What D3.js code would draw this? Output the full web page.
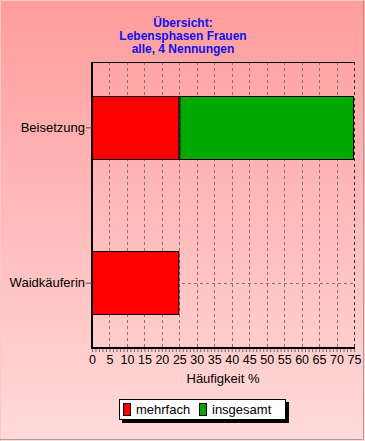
<!DOCTYPE html>
<html>
<head>
<meta charset="utf-8">
<script src="https://cdn.jsdelivr.net/npm/d3@7"></script>
<style>
  body { margin: 0; }
  svg { display: block; font-family: "Liberation Sans", Arial, sans-serif; }
</style>
</head>
<body>
<div id="chart"></div>
<script>
// DATA
const categories = ["Beisetzung", "Waidkäuferin"];
const mehrfach = [25, 25];
const insgesamt = [50, 0];
const seriesNames = ["mehrfach", "insgesamt"];
const seriesColors = ["#ff0000", "#00a800"];
const titleLines = ["Übersicht:", "Lebensphasen Frauen", "alle, 4 Nennungen"];
const xLabel = "Häufigkeit %";
const xMax = 75;

const dimension = {
    width: 365,
    height: 441,
    margin: { top: 62, right: 11, bottom: 93, left: 92 },
}
dimension.boundedWidth = dimension.width - dimension.margin.left - dimension.margin.right;
dimension.boundedHeight = dimension.height - dimension.margin.top - dimension.margin.bottom;

const rows = categories.map((c, i) => ({ cat: c, mehrfach: mehrfach[i], insgesamt: insgesamt[i] }));
const stacked = d3.stack().keys(seriesNames)(rows);

//SCALES
const xScale = d3.scaleLinear()
    .domain([0, xMax])
    .range([0, dimension.boundedWidth])
const yScale = d3.scalePoint()
    .domain(categories)
    .range([0, dimension.boundedHeight])
    .padding(0.42)
const barH = 63;

const wrapper = d3.select("#chart")
    .append("svg")
    .attr("width", dimension.width)
    .attr("height", dimension.height)

//BACKGROUND GRADIENT
const grad = wrapper.append("defs").append("linearGradient")
    .attr("id", "bg").attr("x1", 0).attr("y1", 0).attr("x2", 0).attr("y2", 1)
grad.append("stop").attr("offset", "0%").attr("stop-color", "#ff9c9c")
grad.append("stop").attr("offset", "100%").attr("stop-color", "#ffdada")

wrapper.append("rect")
    .attr("width", dimension.width).attr("height", dimension.height)
    .attr("fill", "url(#bg)")
// window edges
wrapper.append("path")
    .attr("d", `M0.5,${dimension.height} V0.5 H${dimension.width}`)
    .attr("stroke", "#ffc8c8").attr("fill", "none")
wrapper.append("path")
    .attr("d", `M0,${dimension.height - 1.5} H${dimension.width - 1.5} V0`)
    .attr("stroke", "#a0a0a0").attr("fill", "none")

//TITLE
wrapper.append("text")
    .attr("x", 183).attr("y", 27)
    .attr("text-anchor", "middle")
    .attr("font-size", 12).attr("font-weight", "bold")
    .attr("fill", "#1010ee")
    .selectAll("tspan").data(titleLines).enter().append("tspan")
    .attr("x", 183).attr("dy", (d, i) => i == 0 ? 0 : 13)
    .text(d => d)

const bounds = wrapper.append("g")
    .attr("transform", `translate(${dimension.margin.left}, ${dimension.margin.top})`)

//GRID
const ticks = xScale.ticks(15);
bounds.selectAll(".vgrid")
    .data(ticks.filter(t => t > 0))
    .enter().append("line")
    .attr("x1", d => Math.round(xScale(d)) + 0.5)
    .attr("x2", d => Math.round(xScale(d)) + 0.5)
    .attr("y1", 0).attr("y2", dimension.boundedHeight)
    .attr("stroke", d => d == xMax ? "#303030" : "#8a7070")
    .attr("stroke-dasharray", "3,3")
bounds.selectAll(".hgrid")
    .data(categories)
    .enter().append("line")
    .attr("x1", 0).attr("x2", dimension.boundedWidth)
    .attr("y1", d => Math.round(yScale(d)) + 0.5)
    .attr("y2", d => Math.round(yScale(d)) + 0.5)
    .attr("stroke", "#8a7070")
    .attr("stroke-dasharray", "3,3")

// top border
bounds.append("line")
    .attr("x1", 0).attr("x2", dimension.boundedWidth)
    .attr("y1", 0.5).attr("y2", 0.5)
    .attr("stroke", "#000")

//BARS
stacked.forEach((layer, k) => {
    bounds.selectAll(".bar" + k)
        .data(layer)
        .enter().append("rect")
        .attr("x", d => xScale(d[0]) + 0.5)
        .attr("y", d => Math.round(yScale(d.data.cat) - barH / 2) + 0.5)
        .attr("width", d => Math.max(0, xScale(d[1]) - xScale(d[0]) - 1))
        .attr("height", barH)
        .attr("fill", seriesColors[k])
        .attr("stroke", d => d[1] > d[0] ? "#000" : seriesColors[k])
})

//AXES
bounds.append("line")
    .attr("x1", 0).attr("x2", dimension.boundedWidth + 1)
    .attr("y1", dimension.boundedHeight).attr("y2", dimension.boundedHeight)
    .attr("stroke", "#000").attr("stroke-width", 2)
bounds.append("line")
    .attr("x1", 0).attr("x2", 0)
    .attr("y1", 0).attr("y2", dimension.boundedHeight + 1)
    .attr("stroke", "#000").attr("stroke-width", 2)

// x axis minor ticks + labels
const xAxis = d3.axisBottom(xScale)
    .tickValues(d3.range(0, xMax + 1, 1))
    .tickSize(3)
    .tickFormat(d => d % 5 == 0 ? d : "")
const xAxisG = bounds.append("g")
    .attr("transform", `translate(0, ${dimension.boundedHeight + 1})`)
    .call(xAxis)
xAxisG.select(".domain").remove()
xAxisG.selectAll(".tick line").attr("stroke", "#7a6a6a")
xAxisG.selectAll("text")
    .attr("font-size", 12.5).attr("font-family", "Liberation Sans, Arial, sans-serif")
    .attr("fill", "#000").attr("y", 6)

wrapper.append("text")
    .attr("x", dimension.margin.left + dimension.boundedWidth / 2)
    .attr("y", 383)
    .attr("text-anchor", "middle")
    .attr("font-size", 13)
    .text(xLabel)

// y axis
const yAxis = d3.axisLeft(yScale).tickSize(6).tickPadding(1)
const yAxisG = bounds.append("g").call(yAxis)
yAxisG.select(".domain").remove()
yAxisG.selectAll(".tick line").attr("stroke", "#555")
yAxisG.selectAll("text")
    .attr("font-size", 13).attr("font-family", "Liberation Sans, Arial, sans-serif")
    .attr("fill", "#000")

//LEGEND
const legend = wrapper.append("g").attr("transform", "translate(119, 399)")
legend.append("rect")
    .attr("x", 3).attr("y", 3).attr("width", 167).attr("height", 21)
    .attr("fill", "#000")
legend.append("rect")
    .attr("x", 0.5).attr("y", 0.5).attr("width", 166).attr("height", 20)
    .attr("fill", "#fff").attr("stroke", "#000")
const legendX = [4, 80];
seriesNames.forEach((name, i) => {
    legend.append("rect")
        .attr("x", legendX[i] + 0.5).attr("y", 4.5)
        .attr("width", 7).attr("height", 12)
        .attr("fill", seriesColors[i]).attr("stroke", "#000")
    legend.append("text")
        .attr("x", legendX[i] + 13).attr("y", 15)
        .attr("font-size", 13)
        .text(name)
})
</script>
</body>
</html>
